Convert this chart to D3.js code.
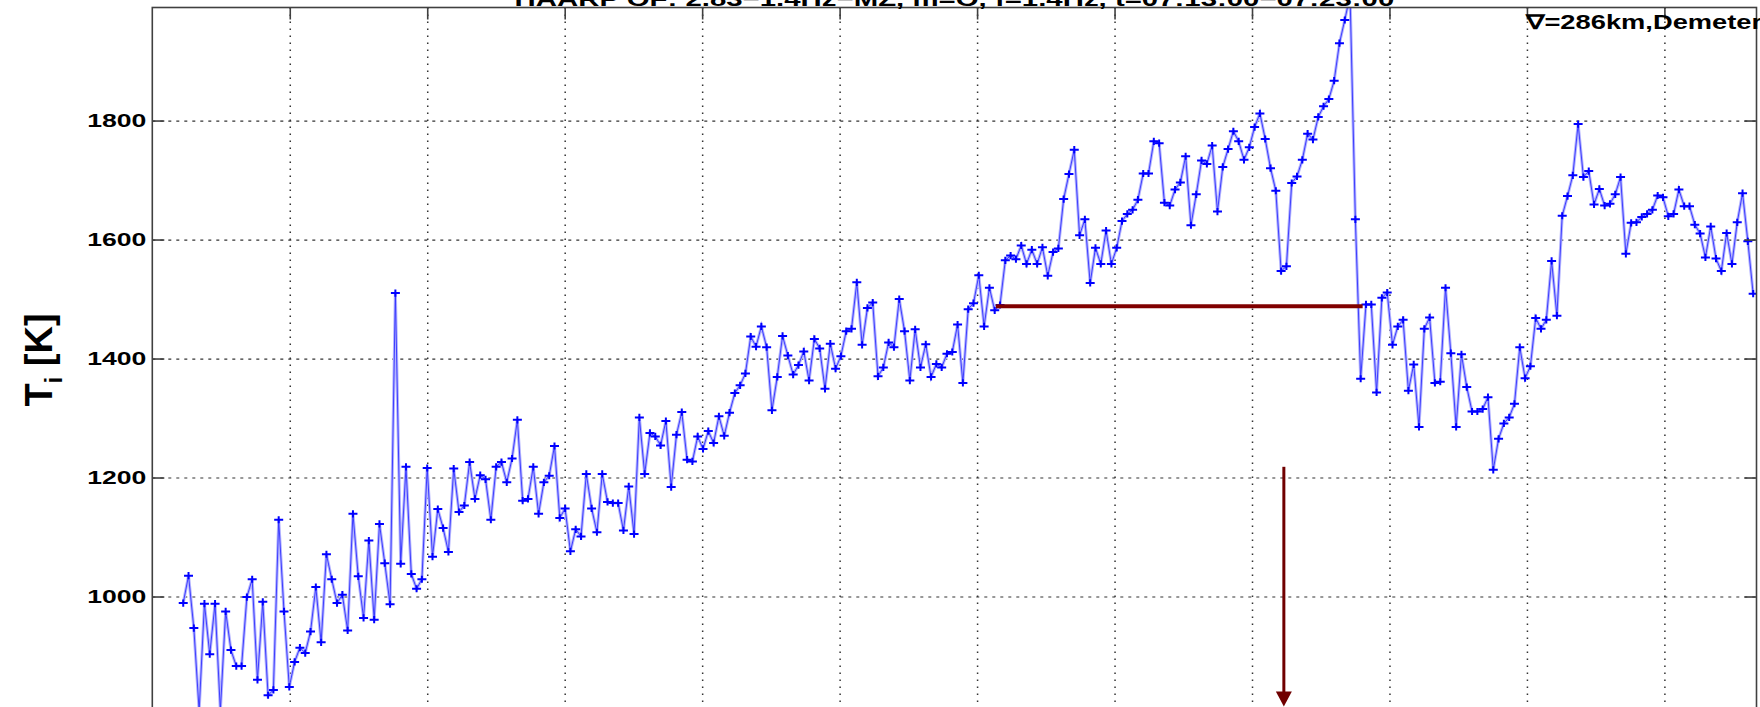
<!DOCTYPE html>
<html>
<head>
<meta charset="utf-8">
<script src="https://cdn.jsdelivr.net/npm/d3@7"></script>
<style>
  body { margin: 0; background: #fff; }
  svg { display: block; }
  text { font-family: "Liberation Sans", Arial, Helvetica, sans-serif; font-weight: bold; fill: #000; }
</style>
</head>
<body>
<svg width="1760" height="707"></svg>
<script>
const title = "HAARP OF: 2.83\u22121.4Hz\u2212MZ, m=O, f=1.4Hz, t=07:13:00\u221207:23:00";
const note = "\u2207=286km,Demeter";

// y ticks (K) and x ticks (seconds after 07:12:00)
const yTicks = [1000, 1200, 1400, 1600, 1800];
const xTicks = [60, 120, 180, 240, 300, 360, 420, 480, 540, 600, 660];
const xTickLabels = ["07:13", "07:14", "07:15", "07:16", "07:17", "07:18", "07:19", "07:20", "07:21", "07:22", "07:23"];

// ion temperature samples
const t0 = 13.5, dt = 2.315;
const tiK = [
  989, 1035, 947, 808, 988, 903, 988, 808, 975, 910, 883, 883, 999, 1029, 860, 991, 834, 843, 1129, 975,
  848, 890, 914, 905, 941, 1016, 923, 1071, 1029, 989, 1003, 943, 1139, 1034, 964, 1094, 961, 1122, 1056, 987,
  1510, 1055, 1218, 1038, 1013, 1029, 1216, 1067, 1147, 1115, 1075,
  1215, 1142, 1153, 1226, 1164, 1204, 1197, 1129, 1218, 1226, 1192, 1232, 1297, 1161, 1164, 1218, 1139, 1192, 1203, 1253,
  1132, 1148, 1076, 1113, 1101, 1206, 1148, 1108, 1206, 1159, 1157, 1157, 1111, 1185, 1105, 1301, 1206, 1275, 1269, 1254,
  1295, 1184, 1272, 1310, 1230, 1227, 1269, 1248, 1278, 1258, 1303,
  1270, 1309, 1342, 1355, 1375, 1437, 1420, 1454, 1419, 1313, 1369, 1438, 1405, 1373, 1389, 1412, 1363, 1433, 1417, 1349,
  1425, 1383, 1404, 1446, 1450, 1528, 1423, 1485, 1494, 1370, 1385, 1427, 1419, 1500, 1446, 1363, 1449, 1385, 1424, 1369,
  1391, 1385, 1408, 1411, 1457, 1359, 1483, 1493, 1540, 1454, 1519, 1481, 1490,
  1565, 1573, 1567, 1590, 1559, 1583, 1559, 1587, 1539, 1579, 1585, 1668, 1710, 1751, 1607, 1634, 1527, 1586, 1559, 1615,
  1559, 1586, 1631, 1643, 1650, 1667, 1711, 1711, 1765, 1762, 1662, 1657, 1684, 1696, 1740, 1624, 1676, 1733, 1727, 1758,
  1647, 1722, 1752, 1782, 1765, 1734, 1755, 1789, 1812, 1769, 1720, 1682, 1547, 1555, 1695, 1706, 1734, 1778, 1768, 1806,
  1824, 1836, 1867, 1930, 1969, 2010, 1634, 1366, 1491, 1491,
  1343, 1502, 1511, 1423, 1454, 1465, 1346, 1390, 1285, 1450, 1469, 1359, 1361, 1519, 1409, 1285, 1407, 1352, 1311, 1311,
  1315, 1335, 1213, 1265, 1291, 1301, 1324, 1419, 1367, 1387, 1468, 1450, 1465, 1564, 1472, 1640, 1673, 1708, 1794, 1705,
  1715, 1659, 1685, 1657, 1660, 1676, 1705, 1576, 1628, 1629, 1638, 1643, 1650, 1674, 1671, 1639, 1643, 1684, 1656, 1656,
  1625, 1610, 1570, 1622, 1568, 1547, 1611, 1559, 1629, 1678, 1597, 1509
];

// heating interval (s) and mean level (K), arrow position
const heating = [368.2, 528.3];
const heatLevel = 1488;
const arrowAt = 493.9, arrowFrom = 1218, arrowTo = 815;

const svg = d3.select("svg");
const pL = 152.3, pR = 1756.5, pT = 7.5, pB = 715.5;
const sx = 1.4; // the original figure is stretched sideways

const x = d3.scaleLinear().domain([0, 700.2]).range([pL, pR]);
const y = d3.scaleLinear().domain([800, 1990]).range([pB, pT]);

svg.append("clipPath").attr("id", "plot")
  .append("rect").attr("x", pL).attr("y", pT).attr("width", pR - pL).attr("height", pB - pT);

// grid
svg.append("g")
    .attr("transform", `translate(${pL},0)`)
    .call(d3.axisLeft(y).tickValues(yTicks).tickSize(-(pR - pL)).tickFormat(""))
    .call(g => g.select(".domain").remove())
  .selectAll("line")
    .attr("stroke", "#333").attr("stroke-width", 1.2).attr("stroke-dasharray", "3,5");

svg.append("g")
    .attr("transform", `translate(0,${pT})`)
    .call(d3.axisBottom(x).tickValues(xTicks).tickSize(pB - pT).tickFormat(""))
    .call(g => g.select(".domain").remove())
  .selectAll("line")
    .attr("stroke", "#333").attr("stroke-width", 1.5).attr("stroke-dasharray", "1.5,5.5");

// data
const pts = tiK.map((v, i) => [t0 + i * dt, v]);
const line = d3.line().x(d => x(d[0])).y(d => y(d[1]));
const plot = svg.append("g").attr("clip-path", "url(#plot)");

plot.append("path").datum(pts)
    .attr("fill", "none").attr("stroke", "#b4b4ff").attr("stroke-width", 3).attr("d", line);
plot.append("path").datum(pts)
    .attr("fill", "none").attr("stroke", "#3030ff").attr("stroke-width", 0.9).attr("d", line);

plot.selectAll(".mk").data(pts).enter().append("path")
    .attr("class", "mk")
    .attr("transform", d => `translate(${x(d[0])},${y(d[1])})`)
    .attr("d", "M-4.5,0H4.5M0,-3.6V3.6")
    .attr("stroke", "#0000ff").attr("stroke-width", 2);

// heating level and arrow
svg.append("line")
    .attr("x1", x(heating[0])).attr("x2", x(heating[1]))
    .attr("y1", y(heatLevel)).attr("y2", y(heatLevel))
    .attr("stroke", "#800000").attr("stroke-width", 4);

const ax = x(arrowAt), ayTip = y(arrowTo);
svg.append("line")
    .attr("x1", ax).attr("x2", ax)
    .attr("y1", y(arrowFrom)).attr("y2", ayTip - 12)
    .attr("stroke", "#700000").attr("stroke-width", 3);
svg.append("path")
    .attr("d", `M${ax - 8},${ayTip - 15}L${ax + 8},${ayTip - 15}L${ax},${ayTip}Z`)
    .attr("fill", "#700000");

// frame and ticks
svg.append("rect")
    .attr("x", pL).attr("y", pT).attr("width", pR - pL).attr("height", pB - pT)
    .attr("fill", "none").attr("stroke", "#404040").attr("stroke-width", 1.6);

const yAxis = svg.append("g")
    .attr("transform", `translate(${pL},0)`)
    .call(d3.axisLeft(y).tickValues(yTicks).tickFormat(d3.format("d"))
      .tickSizeInner(-12).tickSizeOuter(0).tickPadding(6));
yAxis.select(".domain").remove();
yAxis.attr("font-family", null).attr("font-size", null);
yAxis.selectAll("line").attr("stroke", "#404040").attr("stroke-width", 1.6);
yAxis.selectAll("text")
    .attr("x", -6 / sx).attr("transform", `scale(${sx},1)`)
    .style("font-size", "19px").attr("fill", "#000");

svg.append("g")
    .attr("transform", `translate(${pR},0)`)
    .call(d3.axisRight(y).tickValues(yTicks).tickSizeInner(-12).tickSizeOuter(0).tickFormat(""))
    .call(g => g.select(".domain").remove())
  .selectAll("line").attr("stroke", "#404040").attr("stroke-width", 1.6);

svg.append("g")
    .attr("transform", `translate(0,${pT})`)
    .call(d3.axisTop(x).tickValues(xTicks).tickSizeInner(-12).tickSizeOuter(0).tickFormat(""))
    .call(g => g.select(".domain").remove())
  .selectAll("line").attr("stroke", "#404040").attr("stroke-width", 1.6);

// texts
svg.append("text")
    .attr("transform", `translate(${(pL + pR) / 2},5.7) scale(${sx},1)`)
    .attr("text-anchor", "middle")
    .style("font-size", "21px")
    .text(title);

svg.append("text")
    .attr("transform", `translate(1526,29) scale(${sx},1)`)
    .style("font-size", "19.5px")
    .text(note);

const yl = svg.append("text")
    .attr("transform", "translate(52,360) rotate(-90)")
    .attr("text-anchor", "middle")
    .style("font-size", "38px");
yl.append("tspan").text("T");
yl.append("tspan").attr("dy", 10).style("font-size", "24px").text("i");
yl.append("tspan").attr("dy", -10).text(" [K]");
</script>
</body>
</html>
